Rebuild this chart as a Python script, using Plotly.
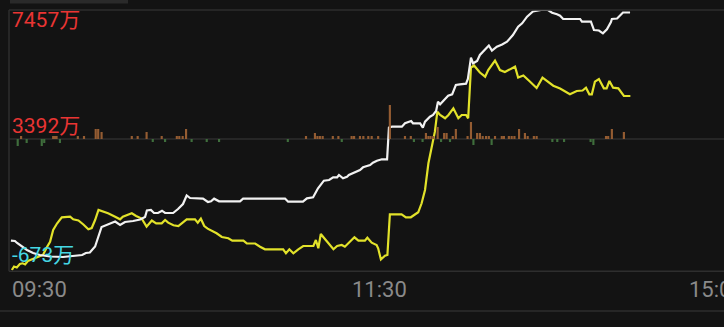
import plotly.graph_objects as go

# minutes since 09:30 (0-120 = morning, 120-240 = 13:00-15:00)
white_t = [0.3,1.6,2.3,3.2,4.2,5.5,7.5,9.7,13.0,17.2,23.4,24.6,25.9,27.6,29.7,31.5,34.1,35.7,37.3,39.9,
           42.2,43.8,44.4,45.7,46.7,48.0,49.3,50.3,52.9,54.5,56.1,57.3,58.4,62.6,64.2,65.2,66.2,67.8,74.6,75.6,
           89.2,90.2,95.0,96.3,98.3,99.9,101.8,103.5,104.8,106.1,106.7,108.0,109.3,109.9,111.2,112.5,113.5,114.5,115.8,116.8,
           117.7,119.0,120.6,122.3,122.9,123.9,127.1,128.1,130.1,130.7,133.0,133.9,134.6,136.2,137.2,138.2,138.8,139.5,141.1,142.1,
           143.4,144.6,145.9,147.9,148.5,149.5,150.2,151.5,152.4,154.1,155.3,156.3,157.9,159.6,161.2,163.1,164.8,166.1,167.7,169.6,
           170.9,172.2,174.5,175.8,177.4,178.4,179.4,184.9,185.5,188.4,189.4,191.0,192.3,193.6,194.9,195.2,196.9,198.8,201.1]
white_v = [298,289,227,165,87,10,-83,-145,-192,-207,-145,-83,-68,118,723,786,894,786,879,910,
           956,1034,1236,1251,1158,1158,1229,1158,1158,1282,1437,1701,1623,1602,1499,1521,1602,1521,1521,1602,
           1608,1508,1508,1614,1645,1924,2160,2182,2266,2266,2337,2235,2284,2337,2390,2439,2492,2576,2616,2647,
           2719,2781,2824,2824,3811,3836,3836,3941,4013,3941,3941,3805,3991,4146,4199,4323,4612,4531,4695,4798,
           4841,5130,5151,5170,5316,5977,5803,5874,6061,6216,6355,6200,6318,6386,6473,6681,6939,7044,7249,7410,
           7441,7457,7457,7373,7324,7280,7178,7178,7094,7094,6836,6821,6734,6858,7085,7178,7193,7379,7379]

yellow_t = [0.6,1.3,2.2,3.2,4.1,4.9,5.8,8.1,10.7,12.0,13.0,14.0,15.3,16.8,19.5,20.5,22.2,23.8,25.4,26.5,
            27.6,28.7,30.3,31.8,34.1,35.7,36.6,39.5,40.9,42.7,44.3,46.0,47.4,49.2,50.3,51.3,53.0,54.6,55.7,57.3,
            60.0,60.9,61.9,63.0,64.1,65.6,67.0,68.7,70.8,72.1,75.7,76.8,79.5,81.1,82.7,88.6,89.5,90.6,91.9,93.5,
            95.1,98.4,99.2,100.0,100.8,102.2,103.8,104.9,106.1,107.6,108.6,110.3,111.7,113.0,115.1,115.9,117.3,118.9,119.4,120.3,
            121.6,122.4,123.2,127.0,128.4,130.0,131.4,132.4,133.5,134.6,135.7,136.8,137.3,137.8,138.6,139.5,141.1,142.2,143.8,145.4,
            146.5,147.9,148.6,149.5,150.5,152.4,154.1,155.1,157.3,158.9,160.5,162.2,163.8,164.8,166.5,168.6,170.8,172.7,174.6,176.2,
            178.4,180.0,181.6,183.8,185.7,186.8,187.9,188.7,189.7,191.0,192.6,193.5,194.4,195.6,197.3,199.1,201.2]
yellow_v = [-611,-502,-533,-425,-403,-440,-332,-238,-145,103,267,630,838,1025,1043,962,925,801,655,692,
            941,1251,1198,1149,1043,962,1043,1149,1065,987,733,925,838,838,941,857,776,754,838,962,
            962,857,981,754,671,609,528,413,373,298,298,218,212,112,32,32,-93,32,-93,32,
            134,134,320,62,506,342,165,32,134,165,112,267,404,298,298,391,236,165,62,-285,
            -167,-145,1118,1118,1025,1025,1118,1180,1459,1872,2700,3166,3370,3681,4301,4199,4097,4199,4407,4097,
            4199,4199,4097,5673,5735,5518,5387,5595,5890,5595,5533,5626,5698,5362,5424,5238,5037,5356,5213,5108,
            5021,4922,4841,4944,4959,5046,4841,4841,5232,5316,5027,5027,5254,5046,5027,4788,4788]

# small flow bars around the middle line (positive = orange, negative = green)
bar_t = [2.5,3.6,5.4,10.3,11.1,14.0,14.6,15.1,16.2,22.0,24.0,27.8,28.6,29.7,39.5,41.4,44.3,46.3,49.2,50.3,
         54.1,54.9,56.0,57.1,58.9,63.8,67.8,90.1,96.0,98.9,99.7,100.5,101.4,104.7,106.5,107.6,110.8,111.6,113.5,114.6,
         116.2,117.3,119.4,123.2,128.1,130.0,131.0,133.8,134.9,135.7,136.4,137.3,138.7,139.8,140.8,141.6,142.7,143.6,144.6,148.4,
         149.5,150.3,151.5,152.4,153.3,154.4,155.3,156.2,157.3,159.5,160.2,161.8,162.7,163.6,165.1,167.0,167.9,169.9,170.8,175.9,
         177.5,179.7,188.3,189.2,193.3,194.0,195.2,199.1]
bar_v = [-7,3,-4,-7,-4,3,3,3,-4,3,3,10,10,7,3,3,7,-3,3,-3,
         3,3,3,10,-3,-3,-3,-3,3,6,3,3,3,3,3,-3,3,3,3,3,
         3,3,3,34,3,3,-3,-3,6,3,3,3,12,-3,6,6,-3,3,10,3,
         17,-6,6,6,3,3,3,-6,3,3,3,3,3,3,10,6,3,3,3,-3,
         -3,-3,-3,-6,3,3,10,7]

level_text = ["7457万", "3392万", "-673万"]
tick_minutes = [0, 120, 240]
tick_text = ["09:30", "11:30", "15:00"]

W, H = 724, 327
ML, MR, MT, MB = 10, 0, 10, 55
x_max = 240 * (W - ML - MR) / 740.0

fig = go.Figure()
fig.add_trace(go.Bar(
    x=bar_t, y=bar_v, yaxis="y2", width=0.7,
    marker=dict(color=["#945c32" if v > 0 else "#3f6e3c" for v in bar_v], line=dict(width=0)),
    hoverinfo="skip"))
fig.add_trace(go.Scatter(x=yellow_t, y=yellow_v, mode="lines",
                         line=dict(color="#e2e22a", width=2.2), hoverinfo="skip"))
fig.add_trace(go.Scatter(x=white_t, y=white_v, mode="lines",
                         line=dict(color="#f2f2f2", width=2.2), hoverinfo="skip"))

grid = "#2e2e2e"
shapes = [
    dict(type="line", xref="paper", yref="paper", x0=-0.0014, x1=1, y0=1, y1=1, line=dict(color=grid, width=1.5)),
    dict(type="line", xref="paper", yref="paper", x0=-0.0014, x1=1, y0=0.003, y1=0.003, line=dict(color=grid, width=1.5)),
    dict(type="line", xref="paper", yref="y2", x0=-0.0014, x1=1, y0=0, y1=0, line=dict(color=grid, width=1.5), layer="below"),
    dict(type="line", xref="paper", yref="paper", x0=-0.0014, x1=-0.0014, y0=0.003, y1=1, line=dict(color=grid, width=1.5)),
    dict(type="line", xref="paper", yref="paper", x0=-0.02, x1=1.02, y0=(272 - 311) / 262, y1=(272 - 311) / 262,
         line=dict(color=grid, width=1.5)),
    dict(type="rect", xref="paper", yref="paper", x0=0, x1=(128 - 10) / 714, y0=(272 - 3.5) / 262, y1=1.06,
         fillcolor="#2a2a2a", line=dict(width=0)),
]

annotations = []
level_colors = ["#ea3533", "#ea3533", "#45d8e4"]
level_pos = [(272 - 20) / 262, (272 - 125.5) / 262, (272 - 254.5) / 262]
for t, c, p in zip(level_text, level_colors, level_pos):
    annotations.append(dict(text=t, xref="paper", yref="paper", x=0.0, y=p, xanchor="left", yanchor="middle",
                            showarrow=False, font=dict(family="Roboto, 'Noto Sans CJK SC'", size=21, color=c)))
anchors = ["left", "center", "right"]
shifts = [0, 0, -4]
for m, t, a, s in zip(tick_minutes, tick_text, anchors, shifts):
    annotations.append(dict(text=t, xref="paper", yref="paper", x=m / x_max, y=(272 - 289) / 262,
                            xanchor=a, yanchor="middle", showarrow=False, xshift=s,
                            font=dict(family="Roboto", size=22, color="#8a8a8a")))

fig.update_layout(
    width=W, height=H, margin=dict(l=ML, r=MR, t=MT, b=MB),
    paper_bgcolor="#131313", plot_bgcolor="#131313",
    showlegend=False, barmode="overlay",
    xaxis=dict(range=[0, x_max], visible=False, fixedrange=True),
    yaxis=dict(range=[-673, 7457], visible=False, fixedrange=True),
    yaxis2=dict(range=[-133, 129], overlaying="y", visible=False, fixedrange=True),
    shapes=shapes, annotations=annotations,
)
fig.write_html("out.html")
